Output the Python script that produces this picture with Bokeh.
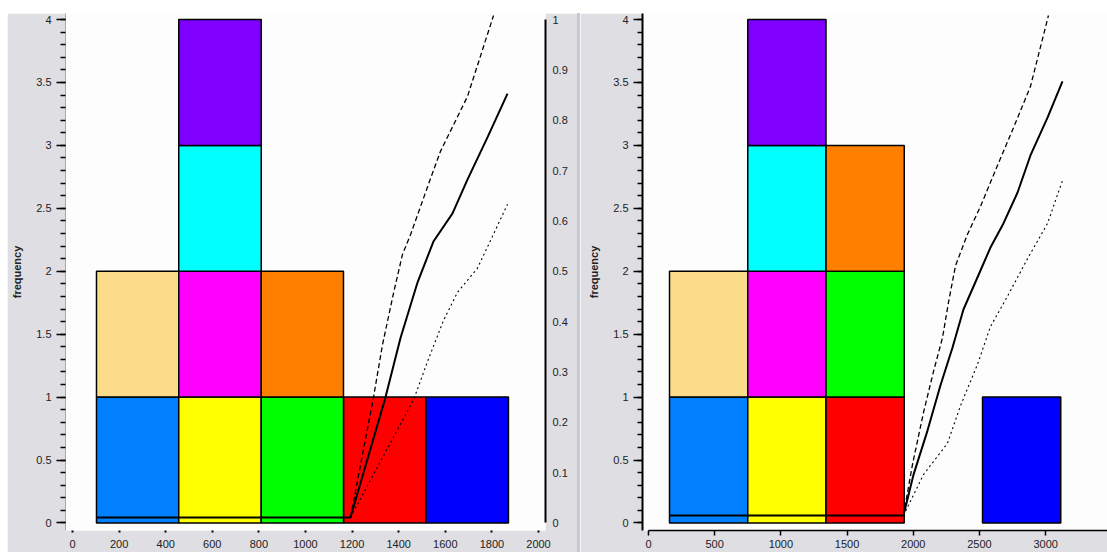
from bokeh.plotting import figure
from bokeh.models import Range1d, LinearAxis, FixedTicker, NumeralTickFormatter, Spacer, Div
from bokeh.layouts import row, column
from bokeh.embed import file_html
from bokeh.resources import INLINE

# ---- data -------------------------------------------------------------
# one unit-height block per item, stacked inside its histogram bin
item_colors = ["#0080ff", "#fbdc88", "#ffff00", "#ff00ff", "#00ffff",
               "#8000ff", "#ff0000", "#00ff00", "#ff8000", "#0000ff"]
left_item_bin = [0, 0, 1, 1, 1, 1, 3, 2, 2, 4]
right_item_bin = [0, 0, 1, 1, 1, 1, 2, 2, 2, 4]

left_edges = [103, 456, 810, 1163, 1517, 1871]
right_edges = [159, 750, 1341, 1932, 2523, 3114]

# cumulative curves (right-hand 0..1 scale): estimate, upper and lower band
left_mid_x = [103, 1193, 1343, 1408, 1481, 1549, 1631, 1695, 1781, 1867]
left_mid_y = [0.011, 0.011, 0.249, 0.368, 0.478, 0.559, 0.615, 0.682, 0.766, 0.853]
left_up_x = [1193, 1292, 1330, 1378, 1416, 1451, 1524, 1579, 1695, 1807]
left_up_y = [0.011, 0.25, 0.353, 0.457, 0.533, 0.573, 0.668, 0.738, 0.847, 1.008]
left_lo_x = [1193, 1464, 1524, 1592, 1652, 1738, 1867]
left_lo_y = [0.011, 0.245, 0.321, 0.402, 0.458, 0.506, 0.633]

right_mid_x = [159, 1926, 2002, 2107, 2205, 2296, 2379, 2492, 2583, 2681, 2787, 2885, 3014, 3127]
right_mid_y = [0.015, 0.015, 0.096, 0.183, 0.273, 0.348, 0.424, 0.492, 0.547, 0.595, 0.656, 0.73, 0.805, 0.877]
right_up_x = [1926, 1994, 2077, 2153, 2221, 2266, 2319, 2409, 2508, 2636, 2757, 2885, 3021]
right_up_y = [0.015, 0.116, 0.219, 0.301, 0.368, 0.438, 0.511, 0.573, 0.629, 0.71, 0.785, 0.867, 1.008]
right_lo_x = [1926, 2077, 2258, 2357, 2485, 2583, 2711, 2863, 3014, 3127]
right_lo_y = [0.015, 0.096, 0.158, 0.233, 0.315, 0.39, 0.45, 0.525, 0.595, 0.68]

freq_ticks = [0, 0.5, 1, 1.5, 2, 2.5, 3, 3.5, 4]
freq_minor = [i / 10 for i in range(41)]
prop_ticks = [i / 10 for i in range(11)]
left_x_ticks = [0, 200, 400, 600, 800, 1000, 1200, 1400, 1600, 1800, 2000]
right_x_ticks = [0, 500, 1000, 1500, 2000, 2500, 3000, 3500]

# ---- styling ----------------------------------------------------------
PANEL_BG = "#dedee3"
FONT = "Liberation Sans"
LABEL_COLOR = "#222222"
Y_LO, Y_HI = -0.06, 4.048


def stacked_blocks(p, edges, item_bin):
    heights = [0] * (len(edges) - 1)
    left, right, bottom, top = [], [], [], []
    for b in item_bin:
        left.append(edges[b])
        right.append(edges[b + 1])
        bottom.append(heights[b])
        top.append(heights[b] + 1)
        heights[b] += 1
    p.quad(left=left, right=right, bottom=bottom, top=top,
           fill_color=item_colors, line_color="black", line_width=1.5)


def curves(p, mid, up, lo):
    p.line(up[0], up[1], y_range_name="prop", line_color="black",
           line_width=1.3, line_dash="5 3")
    p.line(lo[0], lo[1], y_range_name="prop", line_color="black",
           line_width=1.1, line_dash="2 3")
    p.line(mid[0], mid[1], y_range_name="prop", line_color="black",
           line_width=2, line_join="round")


def style_freq_axis(ax, line_color):
    ax.ticker = FixedTicker(ticks=freq_ticks, minor_ticks=freq_minor)
    ax.formatter = NumeralTickFormatter(format="0.[0]")
    ax.axis_label = "frequency"
    ax.axis_label_text_font = FONT
    ax.axis_label_text_font_size = "11px"
    ax.axis_label_text_font_style = "bold"
    ax.axis_label_text_color = LABEL_COLOR
    ax.axis_label_standoff = 10
    ax.major_label_text_font = FONT
    ax.major_label_text_font_size = "11px"
    ax.major_label_text_color = LABEL_COLOR
    ax.major_label_standoff = 5
    ax.major_tick_in = 0
    ax.major_tick_out = 9
    ax.minor_tick_in = 0
    ax.minor_tick_out = 5
    ax.major_tick_line_color = "black"
    ax.minor_tick_line_color = "black"
    ax.major_tick_line_width = 1.5
    ax.minor_tick_line_width = 1.5
    ax.axis_line_color = line_color


def base_figure(width, xr, bl, br):
    p = figure(width=width, height=539, x_range=Range1d(*xr),
               y_range=Range1d(Y_LO, Y_HI), output_backend="svg",
               toolbar_location=None, min_border_left=bl,
               min_border_right=br, min_border_top=0, min_border_bottom=22)
    p.extra_y_ranges = {"prop": Range1d(Y_LO / 4, Y_HI / 4)}
    p.border_fill_color = PANEL_BG
    p.background_fill_color = "#fdfdfd"
    p.outline_line_color = None
    p.grid.visible = False
    return p


# ---- left panel -------------------------------------------------------
left = base_figure(570, (-30, 2030), 58, 32)
stacked_blocks(left, left_edges, left_item_bin)
curves(left, (left_mid_x, left_mid_y), (left_up_x, left_up_y), (left_lo_x, left_lo_y))

style_freq_axis(left.yaxis[0], "#a8a8ac")
lx = left.xaxis[0]
lx.ticker = FixedTicker(ticks=left_x_ticks)
lx.axis_line_color = None
lx.major_tick_in = 0
lx.major_tick_out = 2
lx.major_tick_line_width = 2
lx.minor_tick_line_color = None
lx.major_label_text_font = FONT
lx.major_label_text_font_size = "11px"
lx.major_label_text_color = LABEL_COLOR
lx.major_label_standoff = 7

prop_axis = LinearAxis(y_range_name="prop", ticker=FixedTicker(ticks=prop_ticks),
                       formatter=NumeralTickFormatter(format="0.[0]"),
                       bounds=(0, 1))
prop_axis.axis_line_color = "black"
prop_axis.axis_line_width = 2
prop_axis.major_tick_in = 0
prop_axis.major_tick_out = 0
prop_axis.minor_tick_line_color = None
prop_axis.major_label_text_font = FONT
prop_axis.major_label_text_font_size = "11px"
prop_axis.major_label_text_color = LABEL_COLOR
prop_axis.major_label_standoff = 7
left.add_layout(prop_axis, "right")

# ---- right panel ------------------------------------------------------
right = base_figure(527, (-45, 3467), 62, 0)
stacked_blocks(right, right_edges, right_item_bin)
curves(right, (right_mid_x, right_mid_y), (right_up_x, right_up_y), (right_lo_x, right_lo_y))

style_freq_axis(right.yaxis[0], "black")
right.yaxis[0].axis_line_width = 2
rx = right.xaxis[0]
rx.ticker = FixedTicker(ticks=right_x_ticks)
rx.bounds = (0, 3500)
rx.axis_line_color = "black"
rx.axis_line_width = 1.5
rx.major_tick_in = 0
rx.major_tick_out = 5
rx.major_tick_line_width = 1.5
rx.minor_tick_line_color = None
rx.major_label_text_font = FONT
rx.major_label_text_font_size = "11px"
rx.major_label_text_color = LABEL_COLOR
rx.major_label_standoff = 4

divider = Div(width=3, height=539, margin=0,
              styles={"background-color": "#c6cad6"})

layout = column(Spacer(height=13),
                row(Spacer(width=7), left, divider, right))

open("out.html", "w").write(file_html(layout, INLINE))
